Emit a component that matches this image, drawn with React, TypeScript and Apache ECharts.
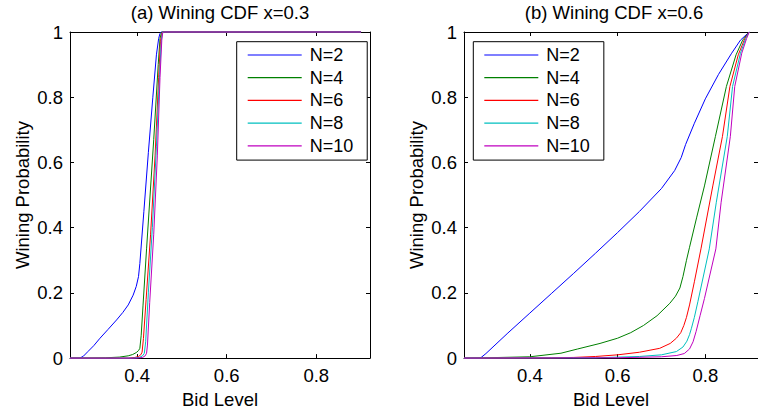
import React, { useEffect, useRef } from "react";
import * as echarts from "echarts";

const seriesNames = ["N=2", "N=4", "N=6", "N=8", "N=10"];
const seriesColors = ["#0000FF", "#008000", "#FF0000", "#00BFBF", "#BF00BF"];
const xTickValues = [0.4, 0.6, 0.8];
const titles = ["(a) Wining CDF x=0.3", "(b) Wining CDF x=0.6"];

// (a) x = 0.3
const n2a = [[0.25,0],[0.272,0],[0.28,0.006],[0.29,0.02],[0.303,0.038],[0.317,0.061],[0.335,0.088],[0.354,0.117],[0.368,0.14],[0.38,0.163],[0.391,0.193],[0.398,0.22],[0.403,0.25],[0.406,0.29],[0.415,0.45],[0.425,0.63],[0.435,0.8],[0.443,0.93],[0.448,0.98],[0.451,0.996],[0.454,1],[0.9,1]];
const n4a = [[0.25,0],[0.33,0.001],[0.36,0.003],[0.38,0.007],[0.39,0.011],[0.398,0.017],[0.403,0.023],[0.406,0.03],[0.409,0.07],[0.413,0.16],[0.421,0.335],[0.437,0.67],[0.447,0.9],[0.451,0.98],[0.454,0.997],[0.456,1],[0.9,1]];
const n6a = [[0.25,0],[0.38,0],[0.395,0.002],[0.403,0.005],[0.408,0.01],[0.411,0.018],[0.414,0.06],[0.42,0.18],[0.43,0.38],[0.44,0.62],[0.448,0.86],[0.452,0.97],[0.455,0.997],[0.457,1],[0.9,1]];
const n8a = [[0.25,0],[0.39,0],[0.405,0.002],[0.412,0.007],[0.416,0.015],[0.419,0.05],[0.425,0.2],[0.434,0.4],[0.443,0.65],[0.45,0.87],[0.454,0.975],[0.456,0.997],[0.458,1],[0.9,1]];
const n10a = [[0.25,0],[0.4,0],[0.412,0.002],[0.418,0.007],[0.421,0.015],[0.423,0.04],[0.428,0.17],[0.437,0.38],[0.445,0.62],[0.451,0.86],[0.455,0.975],[0.457,0.997],[0.459,1],[0.9,1]];

// (b) x = 0.6
const n2b = [[0.25,0],[0.285,0],[0.29,0.003],[0.3,0.014],[0.35,0.077],[0.4,0.138],[0.45,0.199],[0.5,0.26],[0.55,0.322],[0.6,0.385],[0.65,0.45],[0.7,0.52],[0.73,0.575],[0.745,0.615],[0.755,0.655],[0.775,0.72],[0.8,0.795],[0.83,0.87],[0.86,0.935],[0.88,0.975],[0.9,1]];
const n4b = [[0.25,0],[0.3,0.001],[0.4,0.004],[0.471,0.015],[0.509,0.028],[0.56,0.045],[0.6,0.061],[0.63,0.078],[0.659,0.1],[0.69,0.13],[0.719,0.168],[0.732,0.19],[0.742,0.215],[0.749,0.25],[0.757,0.3],[0.764,0.34],[0.78,0.43],[0.798,0.528],[0.823,0.68],[0.848,0.833],[0.87,0.93],[0.885,0.975],[0.9,1]];
const n6b = [[0.25,0],[0.45,0.001],[0.5,0.002],[0.55,0.005],[0.6,0.01],[0.65,0.018],[0.696,0.03],[0.72,0.045],[0.734,0.061],[0.744,0.078],[0.751,0.1],[0.757,0.125],[0.764,0.163],[0.775,0.234],[0.79,0.335],[0.817,0.528],[0.839,0.68],[0.856,0.833],[0.875,0.93],[0.89,0.98],[0.9,1]];
const n8b = [[0.25,0],[0.55,0.001],[0.65,0.005],[0.7,0.01],[0.734,0.02],[0.749,0.034],[0.758,0.052],[0.764,0.072],[0.768,0.09],[0.775,0.125],[0.783,0.173],[0.809,0.335],[0.825,0.478],[0.85,0.68],[0.862,0.833],[0.88,0.935],[0.892,0.98],[0.9,1]];
const n10b = [[0.25,0],[0.6,0.001],[0.7,0.004],[0.735,0.008],[0.752,0.014],[0.764,0.028],[0.772,0.05],[0.779,0.082],[0.788,0.13],[0.798,0.183],[0.824,0.335],[0.836,0.478],[0.857,0.68],[0.867,0.833],[0.883,0.935],[0.894,0.98],[0.9,1]];

const panelA = [n2a, n4a, n6a, n8a, n10a];
const panelB = [n2b, n4b, n6b, n8b, n10b];

const FONT = "'Liberation Sans', Arial, Helvetica, sans-serif";

export default function App() {
  const ref = useRef<HTMLDivElement>(null);

  useEffect(() => {
    if (!ref.current) return;
    const chart = echarts.init(ref.current, null, { renderer: "svg" });

    const grids = [
      { left: 70, top: 32, width: 300, height: 328 },
      { left: 464, top: 32, width: 300, height: 328 },
    ];

    const axisLine = { show: true, onZero: false, lineStyle: { color: "#000", width: 1 } };
    const tick = (custom?: number[]) => ({
      show: true,
      inside: true,
      length: 4,
      lineStyle: { color: "#000", width: 1 },
      ...(custom ? { customValues: custom } : {}),
    });

    const xAxes: any[] = [];
    const yAxes: any[] = [];
    grids.forEach((_, gi) => {
      xAxes.push({
        type: "value",
        gridIndex: gi,
        position: "bottom",
        min: 0.25,
        max: 0.92,
        name: "Bid Level",
        nameLocation: "middle",
        nameGap: 29,
        nameTextStyle: { fontFamily: FONT, fontSize: 18.5, color: "#000" },
        axisLine,
        axisTick: tick(xTickValues),
        axisLabel: {
          customValues: xTickValues,
          margin: 8,
          fontFamily: FONT,
          fontSize: 18.5,
          color: "#000",
          formatter: (v: number) => String(Number(v.toFixed(2))),
        },
        splitLine: { show: false },
      });
      xAxes.push({
        type: "value",
        gridIndex: gi,
        position: "top",
        min: 0.25,
        max: 0.92,
        axisLine,
        axisTick: tick(xTickValues),
        axisLabel: { show: false },
        splitLine: { show: false },
      });
      yAxes.push({
        type: "value",
        gridIndex: gi,
        position: "left",
        min: 0,
        max: 1,
        interval: 0.2,
        name: "Wining Probability",
        nameLocation: "middle",
        nameGap: 38,
        nameTextStyle: { fontFamily: FONT, fontSize: 18.5, color: "#000" },
        axisLine,
        axisTick: tick(),
        axisLabel: { margin: 7, fontFamily: FONT, fontSize: 18.5, color: "#000" },
        splitLine: { show: false },
      });
      yAxes.push({
        type: "value",
        gridIndex: gi,
        position: "right",
        min: 0,
        max: 1,
        interval: 0.2,
        axisLine,
        axisTick: tick(),
        axisLabel: { show: false },
        splitLine: { show: false },
      });
    });

    const series: any[] = [];
    [panelA, panelB].forEach((panel, gi) => {
      panel.forEach((data, i) => {
        series.push({
          type: "line",
          name: seriesNames[i],
          xAxisIndex: gi * 2,
          yAxisIndex: gi * 2,
          data,
          symbol: "none",
          showSymbol: false,
          smooth: false,
          clip: false,
          lineStyle: { color: seriesColors[i], width: 1 },
          itemStyle: { color: seriesColors[i] },
        });
      });
    });

    const legendBase = {
      orient: "vertical",
      top: 41.7,
      data: seriesNames,
      icon: "rect",
      borderColor: "#000",
      borderWidth: 1,
      borderRadius: 0,
      backgroundColor: "#fff",
      padding: [3.3, 14, 4.3, 11],
      itemWidth: 54,
      itemHeight: 1.2,
      itemGap: 2.7,
      textStyle: { fontFamily: FONT, fontSize: 18, color: "#000", lineHeight: 20, padding: [0, 0, 0, 3] },
      selectedMode: false,
      z: 10,
    };

    chart.setOption({
      animation: false,
      backgroundColor: "#fff",
      grid: grids,
      xAxis: xAxes,
      yAxis: yAxes,
      legend: [
        { ...legendBase, left: 236.7 },
        { ...legendBase, left: 473.3 },
      ],
      graphic: [
        {
          type: "text",
          x: 220,
          y: 12.5,
          style: { text: titles[0], textAlign: "center", textVerticalAlign: "middle", font: `18.5px ${FONT}`, fill: "#000" },
        },
        {
          type: "text",
          x: 614,
          y: 12.5,
          style: { text: titles[1], textAlign: "center", textVerticalAlign: "middle", font: `18.5px ${FONT}`, fill: "#000" },
        },
      ],
      series,
    });

    return () => chart.dispose();
  }, []);

  return (
    <div
      ref={ref}
      style={{ position: "fixed", left: 0, top: 0, width: 758, height: 414, background: "#fff" }}
    />
  );
}
